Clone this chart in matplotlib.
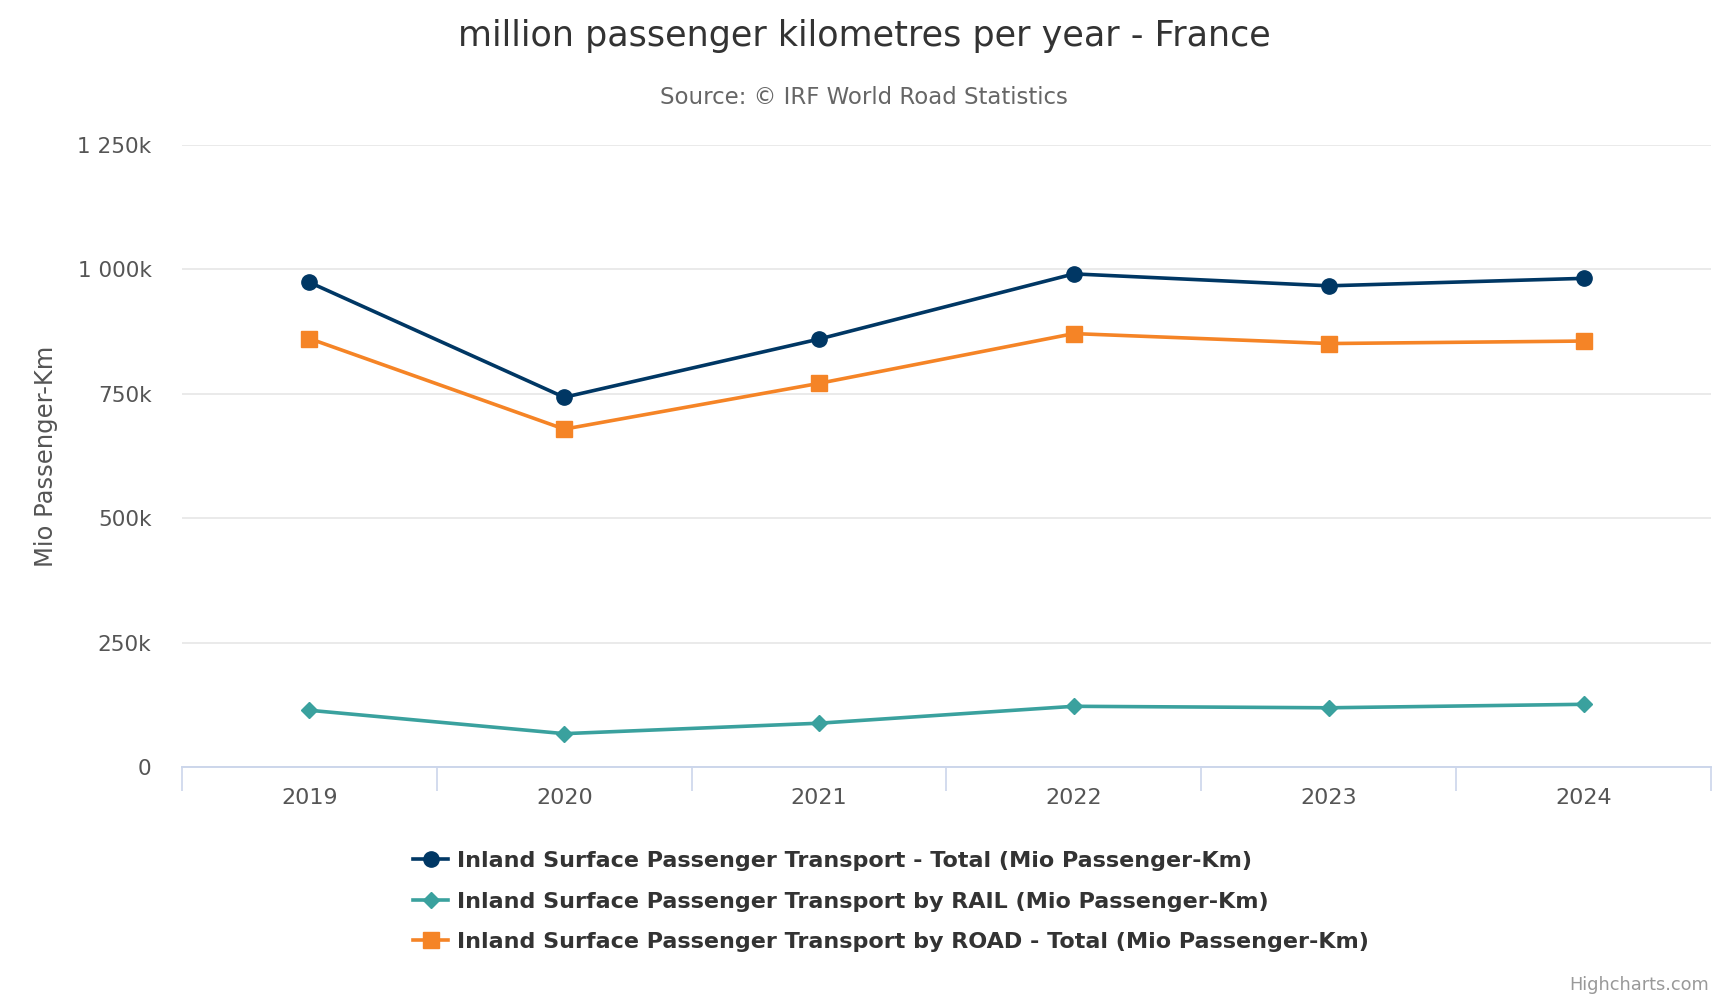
import numpy as np
import matplotlib.pyplot as plt
from matplotlib.ticker import FuncFormatter

years = ['2019', '2020', '2021', '2022', '2023', '2024']
total = [974, 743, 860, 991, 967, 982]
rail = [114, 67, 88, 122, 119, 126]
road = [861, 679, 771, 871, 851, 856]

labels = ['Inland Surface Passenger Transport - Total (Mio Passenger-Km)',
          'Inland Surface Passenger Transport by RAIL (Mio Passenger-Km)',
          'Inland Surface Passenger Transport by ROAD - Total (Mio Passenger-Km)']
colors = ['#003764', '#3aa19e', '#f58426']

W, H = 1728, 1000
fig = plt.figure(figsize=(W / 100, H / 100), dpi=100)
ax = fig.add_axes([182 / W, 1 - 767 / H, (1711 - 182) / W, (767 - 145) / H])

x = np.arange(len(years))
ax.plot(x, total, color=colors[0], lw=2.6, marker='o', ms=11, label=labels[0], zorder=4)
ax.plot(x, rail, color=colors[1], lw=2.6, marker='D', ms=8, label=labels[1], zorder=3)
ax.plot(x, road, color=colors[2], lw=2.6, marker='s', ms=11, label=labels[2], zorder=3)

ax.set_xlim(-0.5, len(years) - 0.5)
ax.set_ylim(0, 1250)
ax.set_yticks([0, 250, 500, 750, 1000, 1250])


def fmt(v, pos):
    v = int(round(v))
    if v == 0:
        return '0'
    return '{:,}k'.format(v).replace(',', ' ')


ax.yaxis.set_major_formatter(FuncFormatter(fmt))
ax.set_xticks(x)
ax.set_xticklabels(years)
ax.set_xticks(np.arange(-0.5, len(years)), minor=True)
ax.tick_params(axis='x', which='major', length=0, pad=15, labelsize=16, labelcolor='#555555')
ax.tick_params(axis='x', which='minor', length=17, width=1.2, color='#ccd6eb')
ax.tick_params(axis='y', length=0, pad=22, labelsize=15.5, labelcolor='#555555')
for lab in ax.get_yticklabels():
    lab.set_horizontalalignment('right')

ax.grid(axis='y', color='#e6e6e6', lw=1.2)
ax.set_axisbelow(True)
for s in ['top', 'left', 'right']:
    ax.spines[s].set_visible(False)
ax.spines['bottom'].set_color('#ccd6eb')
ax.spines['bottom'].set_linewidth(1.4)

ax.set_ylabel('Mio Passenger-Km', fontsize=17.5, color='#555555')
ax.yaxis.set_label_coords(-124 / (1711 - 182), 0.5)

fig.text(0.5, 1 - 36 / H, 'million passenger kilometres per year - France',
         ha='center', va='center', fontsize=25.2, color='#333333')
fig.text(0.5, 1 - 98 / H, 'Source: © IRF World Road Statistics',
         ha='center', va='center', fontsize=16.5, color='#666666')

leg = fig.legend(loc='upper left', bbox_to_anchor=(404 / W, 1 - 842 / H),
                 frameon=False, fontsize=16.0, handlelength=1.6, handletextpad=0.4,
                 labelspacing=0.93, borderaxespad=0)
for t in leg.get_texts():
    t.set_fontweight('bold')
    t.set_color('#333333')

fig.text(1709 / W, 1 - 985 / H, 'Highcharts.com', ha='right', va='center',
         fontsize=12.8, color='#999999')

fig.savefig('out.png', dpi=100)
